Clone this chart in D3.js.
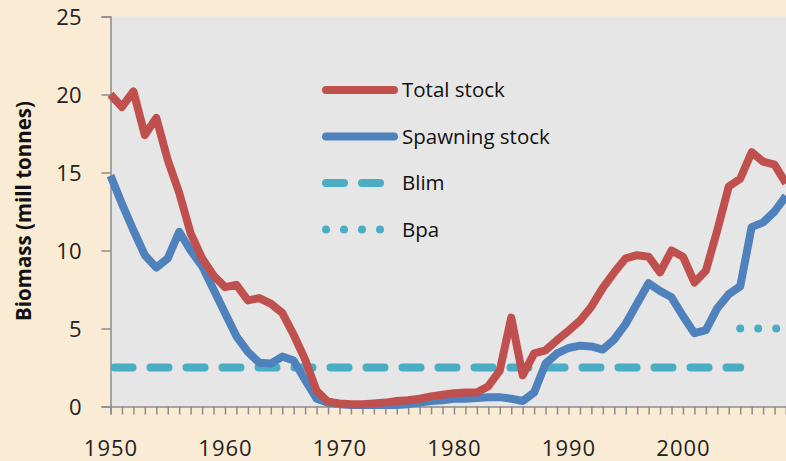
<!DOCTYPE html>
<html>
<head>
<meta charset="utf-8">
<script src="https://cdn.jsdelivr.net/npm/d3@7"></script>
<style>
  body { margin: 0; background: #FAEBD4; }
  svg { display: block; font-family: "Open Sans", sans-serif; }
</style>
</head>
<body>
<svg id="mysvg" width="786" height="461"></svg>
<script>

var years = d3.range(1950, 2010);

var totalStock = [20.0, 19.2, 20.2, 17.4, 18.5, 15.8, 13.7, 11.1, 9.5, 8.4,
	7.65, 7.8, 6.8, 6.95, 6.6, 6.0, 4.6, 3.0, 1.0, 0.3,
	0.2, 0.15, 0.15, 0.2, 0.25, 0.35, 0.4, 0.5, 0.65, 0.75,
	0.85, 0.9, 0.9, 1.3, 2.3, 5.7, 2.0, 3.4, 3.6, 4.25,
	4.85, 5.5, 6.4, 7.6, 8.6, 9.5, 9.7, 9.6, 8.6, 10.0,
	9.6, 7.95, 8.7, 11.3, 14.1, 14.6, 16.3, 15.7, 15.5, 14.3];

var spawningStock = [14.8, 13.0, 11.3, 9.7, 8.9, 9.5, 11.2, 10.0, 9.0, 7.5,
	6.0, 4.5, 3.5, 2.8, 2.75, 3.2, 2.95, 1.7, 0.5, 0.25,
	0.15, 0.1, 0.1, 0.1, 0.1, 0.1, 0.15, 0.25, 0.35, 0.4,
	0.5, 0.5, 0.55, 0.6, 0.6, 0.5, 0.35, 0.9, 2.75, 3.4,
	3.75, 3.9, 3.85, 3.65, 4.3, 5.3, 6.6, 7.9, 7.4, 7.0,
	5.8, 4.7, 4.9, 6.3, 7.2, 7.7, 11.5, 11.8, 12.5, 13.5];

var blimYears = [1950, 2005];
var blimValue = 2.5;
var bpaYears = [2005, 2009];
var bpaValue = 5;

var yTicks = [0, 5, 10, 15, 20, 25];
var xTicks = [1950, 1960, 1970, 1980, 1990, 2000];
var legendLabels = ["Total stock", "Spawning stock", "Blim", "Bpa"];

var red = "#C0504D", blue = "#4F81BD", teal = "#4BACC6";

var svg = d3.select("#mysvg");

var x = d3.scaleLinear().domain([1950, 2009]).range([110.5, 786]);
var y = d3.scaleLinear().domain([0, 25]).range([406.5, 16.5]);

// plot area
svg.append("rect")
	.attr("x", x(1950))
	.attr("y", y(25))
	.attr("width", 786 - x(1950))
	.attr("height", y(0) - y(25))
	.attr("fill", "#E6E6E6");

// y axis
var yAxis = svg.append("g")
	.attr("transform", "translate(" + x(1950) + ",0)")
	.call(d3.axisLeft(y).tickValues(yTicks).tickSize(9).tickPadding(20));
yAxis.selectAll("text").attr("font-size", 22).attr("fill", "#222")
	.attr("font-family", "Open Sans").attr("dy", "0.36em");
yAxis.selectAll("line, path").attr("stroke", "#8C8C8C").attr("stroke-width", 1.5);

// x axis: a tick every year, labels every ten
var xAxis = svg.append("g")
	.attr("transform", "translate(0," + y(0) + ")")
	.call(d3.axisBottom(x).tickValues(years).tickSize(8).tickPadding(41)
		.tickFormat(function (d) { return xTicks.indexOf(d) >= 0 ? d : ""; }));
xAxis.selectAll("text").attr("font-size", 22).attr("fill", "#222")
	.attr("font-family", "Open Sans").attr("letter-spacing", 1).attr("dy", 0);
xAxis.selectAll("line, path").attr("stroke", "#8C8C8C").attr("stroke-width", 1.5);

// y title
svg.append("text")
	.attr("transform", "translate(31," + 211 + ") rotate(-90)")
	.attr("text-anchor", "middle")
	.attr("font-size", 20.5)
	.attr("font-weight", "bold")
	.attr("fill", "#111")
	.text("Biomass (mill tonnes)");

var line = d3.line()
	.x(function (d, i) { return x(years[i]); })
	.y(function (d) { return y(d); });

// Blim and Bpa
svg.append("line")
	.attr("x1", x(blimYears[0]) + 4).attr("x2", x(blimYears[1]))
	.attr("y1", y(blimValue)).attr("y2", y(blimValue))
	.attr("stroke", teal).attr("stroke-width", 8)
	.attr("stroke-linecap", "round")
	.attr("stroke-dasharray", "18,18");

svg.append("line")
	.attr("x1", x(bpaYears[0])).attr("x2", x(bpaYears[1]) + 10)
	.attr("y1", y(bpaValue)).attr("y2", y(bpaValue))
	.attr("stroke", teal).attr("stroke-width", 8)
	.attr("stroke-linecap", "round")
	.attr("stroke-dasharray", "0,18");

svg.append("path")
	.datum(spawningStock)
	.attr("d", line)
	.attr("fill", "none")
	.attr("stroke", blue)
	.attr("stroke-width", 8)
	.attr("stroke-linejoin", "round");

svg.append("path")
	.datum(totalStock)
	.attr("d", line)
	.attr("fill", "none")
	.attr("stroke", red)
	.attr("stroke-width", 8)
	.attr("stroke-linejoin", "round");

// legend
var legend = svg.append("g").attr("transform", "translate(322,90)");
var styles = [
	{ color: red, dash: null },
	{ color: blue, dash: null },
	{ color: teal, dash: "18,18" },
	{ color: teal, dash: "0,18" }
];
legendLabels.forEach(function (lab, i) {
	var g = legend.append("g").attr("transform", "translate(0," + (i * 46.5) + ")");
	g.append("line")
		.attr("x1", 4).attr("x2", 72)
		.attr("stroke", styles[i].color)
		.attr("stroke-width", 8)
		.attr("stroke-linecap", "round")
		.attr("stroke-dasharray", styles[i].dash);
	g.append("text")
		.attr("x", 80).attr("y", 7)
		.attr("font-size", 20.5)
		.attr("fill", "#111")
		.text(lab);
});

</script>
</body>
</html>
